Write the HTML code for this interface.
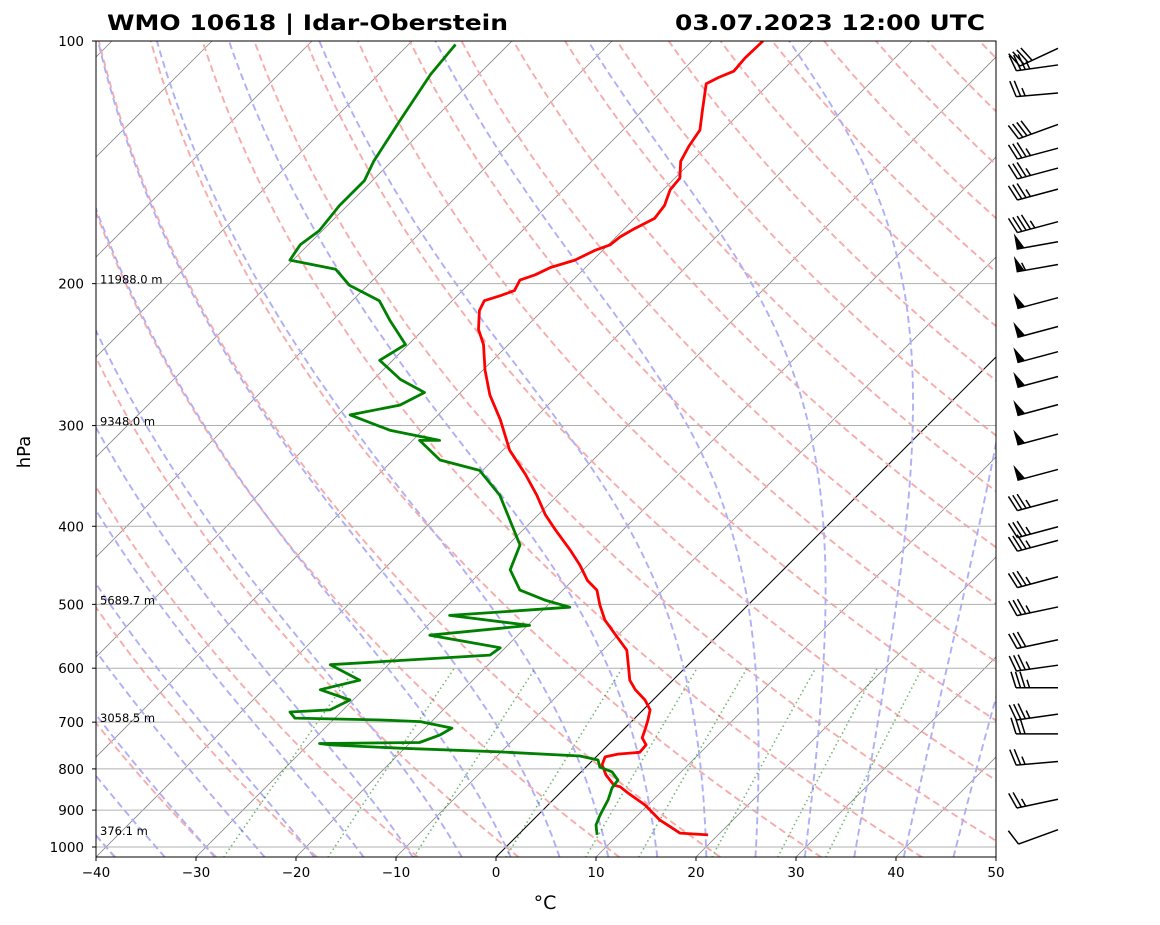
<!DOCTYPE html>
<html><head><meta charset="utf-8"><title>Skew-T 10618</title>
<style>
html,body{margin:0;padding:0;background:#fff;}
svg{display:block;font-family:"DejaVu Sans","Liberation Sans",sans-serif;}
</style></head>
<body>
<svg id="chart" width="1160" height="925" viewBox="0 0 1160 925" xmlns="http://www.w3.org/2000/svg">
<defs><clipPath id="plotclip"><rect x="96" y="41" width="900" height="816"/></clipPath></defs>
<rect width="1160" height="925" fill="#fff"/>
<g id="bg" clip-path="url(#plotclip)"></g>
<g id="grid" clip-path="url(#plotclip)"></g>
<g id="series" clip-path="url(#plotclip)"></g>
<rect x="96" y="41" width="900" height="816" fill="none" stroke="#000" stroke-width="1"/>
<g id="axes"></g>
<g id="barbs"></g>
<text x="107" y="30" font-size="21" font-weight="bold" textLength="401" lengthAdjust="spacingAndGlyphs">WMO 10618 | Idar-Oberstein</text>
<text x="675" y="30" font-size="21" font-weight="bold" textLength="310" lengthAdjust="spacingAndGlyphs">03.07.2023 12:00 UTC</text>
<text x="30" y="452" font-size="18" text-anchor="middle" transform="rotate(-90 30 452)">hPa</text>
<text x="545" y="909" font-size="19" text-anchor="middle">°C</text>
</svg>
<script>
// ---- data ----
const tempP = [966,961,947,926,887,857,842,838,814,791,773,767,763,747,732,716,696,676,657,638,621,594,570,546,523,501,480,467,447,428,404,387,366,345,322,295,275,256,238,228,216,210,207,204,198,195,191,187,182,179,175,171,166,160,153,148,141,135,129,122,113,111,109,105,100];
const tempT = [19.0,16.0,14.7,12.7,9.7,6.8,5.4,4.6,2.8,1.4,0.9,1.9,3.9,3.8,2.7,2.2,1.5,0.7,-0.8,-2.8,-4.3,-6.0,-7.6,-10.2,-12.8,-14.8,-16.6,-18.5,-20.8,-23.3,-26.8,-29.3,-32.1,-35.3,-39.3,-43.3,-46.8,-49.8,-52.5,-54.5,-56.3,-56.8,-55.7,-54.8,-55.3,-54.3,-53.5,-51.8,-50.8,-49.8,-49.6,-49.0,-48.0,-48.3,-49.3,-49.5,-51.1,-51.8,-52.3,-54.0,-56.3,-55.7,-54.8,-55.0,-54.9];
const dewP = [966,939,912,874,845,826,807,796,780,771,762,754,747,744,742,726,712,699,696,692,680,676,657,638,621,594,586,578,566,546,531,516,504,494,480,453,422,393,366,341,331,313,313,304,291,283,273,263,249,238,222,210,201,192,187,179,172,160,149,141,125,110,101];
const dewT = [7.9,6.8,6.2,5.5,4.7,4.5,3.1,1.4,0.5,-1.7,-10.1,-20.5,-27.8,-29.0,-19.1,-17.8,-17.3,-21.1,-24.8,-34.0,-35.1,-31.3,-30.3,-34.3,-31.3,-35.8,-28.3,-20.8,-20.5,-28.8,-19.8,-28.8,-17.6,-20.8,-24.3,-27.3,-28.8,-32.3,-35.8,-40.3,-45.3,-49.3,-47.3,-53.3,-58.8,-54.8,-53.6,-57.3,-61.3,-60.3,-64.3,-67.3,-71.8,-74.8,-80.3,-80.8,-80.3,-80.8,-80.8,-81.8,-83.3,-84.8,-85.3];
const windP = [103,108,117,128,137,145,154,169,179,191,210,228,245,263,285,310,343,374,404,420,466,508,558,600,640,690,730,790,880,960];
const windSpd = [40,35,25,40,35,35,35,45,50,55,50,50,50,50,50,50,50,35,35,35,35,35,30,35,35,35,30,25,25,10];
const windDir = [245,262,265,250,255,255,255,255,260,260,255,255,255,255,255,255,255,255,255,255,255,258,258,262,270,262,270,265,258,250];
const pTicks = [100,200,300,400,500,600,700,800,900,1000];
const tTicks = [-40,-30,-20,-10,0,10,20,30,40,50];
const heightP = [200,300,500,700,966];
const heightLabels = ["11988.0 m","9348.0 m","5689.7 m","3058.5 m","376.1 m"];
const dryT0 = [-40,-30,-20,-10,0,10,20,30,40,50,60,70,80,90,100,110,120,130,140,150,160,170,180,190,200];
const moistT0 = [-40,-35,-30,-25,-20,-15,-10,-5,0,5,10,15,20,25,30,35,40,45,50];
const mixRatios = [0.0004,0.001,0.002,0.004,0.007,0.01,0.016,0.024,0.032];

// ---- axes ----
const NS="http://www.w3.org/2000/svg";
function yP(p){return 41+806*Math.log10(p/100);}
function xT(T,p){return 96+(T+40)*10+(857-yP(p));}
function el(tag,attrs,parent){const e=document.createElementNS(NS,tag);for(const k in attrs)e.setAttribute(k,attrs[k]);parent.appendChild(e);return e;}
const bg=document.getElementById('bg'),grid=document.getElementById('grid'),ser=document.getElementById('series'),axes=document.getElementById('axes'),barbs=document.getElementById('barbs');
function pathFrom(ps,ts){let d='';for(let i=0;i<ps.length;i++){d+=(i?'L':'M')+xT(ts[i],ps[i]).toFixed(1)+','+yP(ps[i]).toFixed(1);}return d;}
const pLevels=[];for(let p=1030;p>=100;p-=5)pLevels.push(p);

// isotherms
for(let T=-130;T<=50;T+=10){
  const l=el('line',{x1:xT(T,1030),y1:yP(1030),x2:xT(T,100),y2:yP(100),stroke:T===0?'#000':'#888',"stroke-width":T===0?1:0.8},bg);
  
  
}
// dry adiabats
dryT0.forEach(t0=>{
  const th=t0+273.15;const ts=pLevels.map(p=>th*Math.pow(p/1000,0.2857)-273.15);
  const pa=el('path',{d:pathFrom(pLevels,ts),fill:'none',stroke:'rgb(247,172,172)','stroke-width':1.9,'stroke-dasharray':'7,4'},bg);
  
  
});
// moist adiabats
function es(Tc){return 6.112*Math.exp(17.67*Tc/(Tc+243.5));}
function dTdp(p,TK){const Rd=287.04,Cp=1005.7,Lv=2.501e6,eps=0.622;const rs=eps*es(TK-273.15)/(p-es(TK-273.15));return ((Rd*TK+Lv*rs)/(Cp+Lv*Lv*rs*eps/(Rd*TK*TK)))/p;}
function integ(T0,p0,p1,step){const out=[[p0,T0]];let T=T0,p=p0;const n=Math.round(Math.abs(p1-p0)/step),h=(p1-p0)/n;for(let i=0;i<n;i++){const k1=dTdp(p,T),k2=dTdp(p+h/2,T+h/2*k1),k3=dTdp(p+h/2,T+h/2*k2),k4=dTdp(p+h,T+h*k3);T+=h/6*(k1+2*k2+2*k3+k4);p+=h;out.push([p,T]);}return out;}
moistT0.forEach(t0=>{
  const up=integ(t0+273.15,1000,100,5),dn=integ(t0+273.15,1000,1030,5);
  const pts=dn.reverse().concat(up.slice(1));
  const pa=el('path',{d:pathFrom(pts.map(a=>a[0]),pts.map(a=>a[1]-273.15)),fill:'none',stroke:'rgb(175,175,247)','stroke-width':1.9,'stroke-dasharray':'7,4'},bg);
  
  
});
// mixing ratio lines
mixRatios.forEach(w=>{
  const ps=[],ts=[];for(let p=1030;p>=600;p-=10){const e=p*w/(0.622+w);const L=Math.log(e/6.112);ps.push(p);ts.push(243.5*L/(17.67-L));}
  const pa=el('path',{d:pathFrom(ps,ts),fill:'none',stroke:'rgba(0,128,0,0.55)','stroke-width':1.6,'stroke-dasharray':'1.5,3'},bg);
  
  
});
// pressure gridlines and y ticks
pTicks.forEach(p=>{
  const y=yP(p);
  const g=el('line',{x1:96,x2:996,y1:y,y2:y,stroke:'#b0b0b0','stroke-width':1},grid);
  
  
  el('line',{x1:92,x2:96,y1:y,y2:y,stroke:'#000'},axes);
  const t=el('text',{x:84,y:y+5,'font-size':13.5,'text-anchor':'end'},axes);t.textContent=p;
  
  
});
tTicks.forEach(T=>{
  const x=96+(T+40)*10;
  el('line',{x1:x,x2:x,y1:857,y2:861,stroke:'#000'},axes);
  const t=el('text',{x:x,y:877,'font-size':13.5,'text-anchor':'middle'},axes);t.textContent=(T<0?'\u2212'+(-T):T);
  
  
});
heightP.forEach((p,i)=>{
  const t=el('text',{x:100,y:yP(p),'font-size':11.5},axes);t.textContent=heightLabels[i];
  
  
});
// series
const tl=el('path',{d:pathFrom(tempP,tempT),fill:'none',stroke:'#f00','stroke-width':2.8,'stroke-linejoin':'round'},ser);


const dl=el('path',{d:pathFrom(dewP,dewT),fill:'none',stroke:'#008000','stroke-width':2.8,'stroke-linejoin':'round'},ser);


// wind barbs
windP.forEach((p,i)=>{
  const bx=1058,by=yP(p)-3,L=42,d=windDir[i]*Math.PI/180;
  const ux=Math.sin(d),uy=-Math.cos(d);const tx=bx+ux*L,ty=by+uy*L;
  const nx=-uy,ny=ux;
  const g=el('g',{},barbs);
  
  
  el('line',{x1:bx,y1:by,x2:tx,y2:ty,stroke:'#000','stroke-width':1.5},g);
  let s=windSpd[i],pos=0;const fl=16;
  const pn=ny<0?1:-1;
  const px=nx*pn,py=ny*pn;
  while(s>=50){const ax=tx-ux*pos,ay=ty-uy*pos;
    el('polygon',{points:`${ax},${ay} ${ax-ux*8},${ay-uy*8} ${ax+px*fl},${ay+py*fl}`,fill:'#000'},g);pos+=9;s-=50;}
  while(s>=10){const ax=tx-ux*pos,ay=ty-uy*pos;
    el('line',{x1:ax,y1:ay,x2:ax+px*fl+ux*5,y2:ay+py*fl+uy*5,stroke:'#000','stroke-width':1.5},g);pos+=4.5;s-=10;}
  if(s>=5){if(pos===0)pos=4.5;const ax=tx-ux*pos,ay=ty-uy*pos;
    el('line',{x1:ax,y1:ay,x2:ax+px*fl/2+ux*2.5,y2:ay+py*fl/2+uy*2.5,stroke:'#000','stroke-width':1.5},g);}
});
</script>
</body></html>
